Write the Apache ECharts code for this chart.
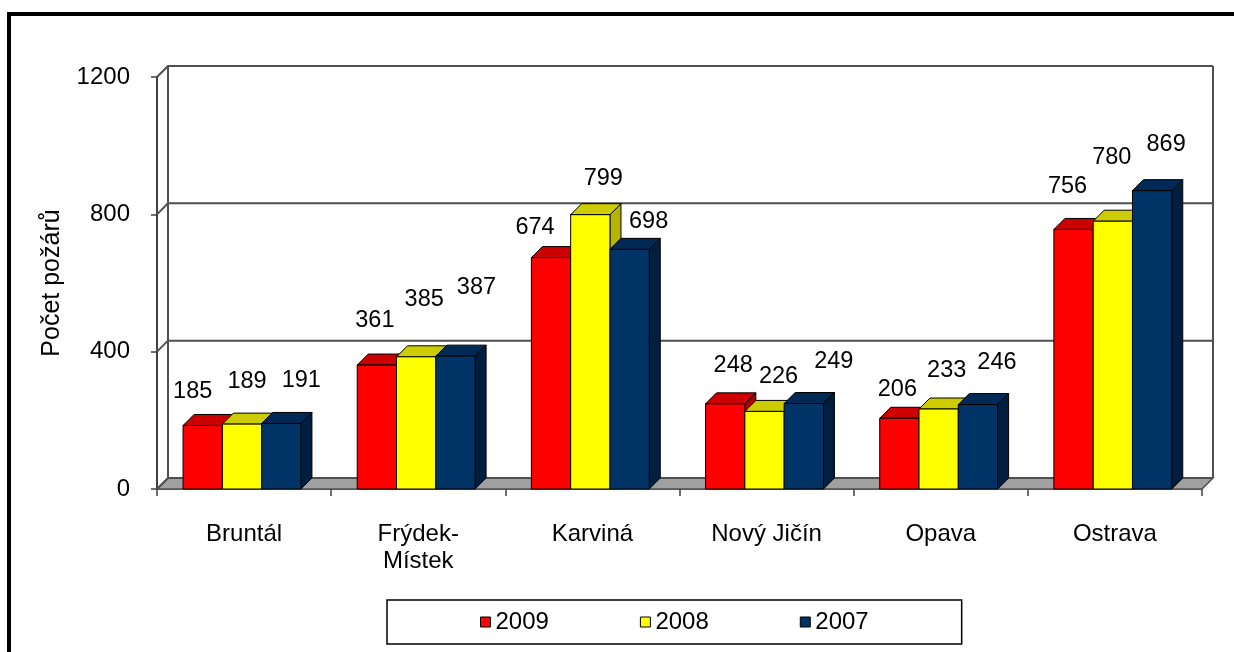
<!DOCTYPE html>
<html><head><meta charset="utf-8">
<script src="https://cdn.jsdelivr.net/npm/echarts@6/dist/echarts.min.js"></script>
<style>html,body{margin:0;padding:0;background:#fff}#c{width:1234px;height:652px}</style>
</head><body><div id="c"></div>
<script>
// ---- data ----
const categories = ['Bruntál', 'Frýdek-\nMístek', 'Karviná', 'Nový Jičín', 'Opava', 'Ostrava'];
const seriesNames = ['2009', '2008', '2007'];
const values2009 = [185, 361, 674, 248, 206, 756];
const values2008 = [189, 385, 799, 226, 233, 780];
const values2007 = [191, 387, 698, 249, 246, 869];
const yTicks = [0, 400, 800, 1200];

// ---- style ----
const seriesValues = [values2009, values2008, values2007];
const frontColors = ['#FF0000', '#FFFF00', '#003366'];
const topColors = ['#CC0000', '#CCCC00', '#002A55'];
const sideColors = ['#A80000', '#B5B500', '#001F3F'];
const DX = 11, DY = 11;
const FONT = '"Liberation Sans", Arial, sans-serif';
const FS = 24;
const LABEL_FS = 23.5;
// label nudges relative to bar front-top centre (Excel 3D label placement)
const labelOffsets = [
  [[-10, -34], [-2, -45], [-16, -30], [8, -38], [-2, -29], [-6, -43]],
  [[5, -43], [8, -57], [13, -36], [14, -35], [8, -38], [-1, -64]],
  [[20, -43], [21, -69], [19, -28], [30, -42], [19, -42], [14, -46]]
];

const chart = echarts.init(document.getElementById('c'), null, {renderer: 'canvas'});

function renderWalls(params, api) {
  const cs = params.coordSys;
  const x0 = cs.x, x1 = cs.x + cs.width;
  const yb = api.coord([0, yTicks[0]])[1];
  const yt = api.coord([0, yTicks[yTicks.length - 1]])[1];
  const ln = {stroke: '#505050', lineWidth: 2, fill: null};
  const children = [];
  children.push({type: 'polygon', shape: {points: [[x0, yb], [x1, yb], [x1 + DX, yb - DY], [x0 + DX, yb - DY]]},
    style: {fill: '#A0A0A0', stroke: '#505050', lineWidth: 1.5}});
  children.push({type: 'polyline', shape: {points: [[x0 + DX, yb - DY], [x0 + DX, yt - DY]]}, style: ln});
  children.push({type: 'polyline', shape: {points: [[x1 + DX, yb - DY], [x1 + DX, yt - DY]]}, style: ln});
  yTicks.forEach(v => {
    const y = api.coord([0, v])[1];
    children.push({type: 'polyline', shape: {points: [[x0, y], [x0 + DX, y - DY], [x1 + DX, y - DY]]}, style: ln});
  });
  return {type: 'group', children};
}

function makeBarRender(si) {
  return function (params, api) {
    const ci = api.value(0), v = api.value(1);
    const base = api.coord([ci, 0]);
    const top = api.coord([ci, v]);
    const band = api.size([1, 0])[0];
    const bw = band * 0.2256;
    const left = base[0] - 1.5 * bw - 0.012 * band + si * bw;
    const right = left + bw;
    const yt = top[1], yb = base[1];
    const edge = {stroke: '#000', lineWidth: 1};
    const off = labelOffsets[si][ci];
    return {type: 'group', children: [
      {type: 'polygon', shape: {points: [[right, yt], [right + DX, yt - DY], [right + DX, yb - DY], [right, yb]]},
        style: Object.assign({fill: sideColors[si]}, edge)},
      {type: 'polygon', shape: {points: [[left, yt], [right, yt], [right + DX, yt - DY], [left + DX, yt - DY]]},
        style: Object.assign({fill: topColors[si]}, edge)},
      {type: 'rect', shape: {x: left, y: yt, width: bw, height: yb - yt},
        style: Object.assign({fill: frontColors[si]}, edge)},
      {type: 'text', z2: 100, style: {text: String(v), x: (left + right) / 2 + off[0], y: yt + off[1],
        align: 'center', verticalAlign: 'middle', fontSize: LABEL_FS, fontFamily: FONT, fill: '#000'}}
    ]};
  };
}

const barSeries = seriesNames.map((name, si) => ({
  type: 'custom',
  name: name,
  coordinateSystem: 'cartesian2d',
  renderItem: makeBarRender(si),
  itemStyle: {color: frontColors[si]},
  encode: {x: 0, y: 1},
  data: seriesValues[si].map((v, i) => [i, v]),
  z: 3
}));

const option = {
  animation: false,
  backgroundColor: '#fff',
  textStyle: {fontFamily: FONT},
  grid: {left: 157, right: 32, top: 77, bottom: 163},
  graphic: [{type: 'rect', shape: {x: 9, y: 14, width: 1600, height: 900},
    style: {fill: null, stroke: '#000', lineWidth: 4}, silent: true}],
  legend: {
    data: seriesNames.map((n, i) => ({name: n, itemStyle: {color: frontColors[i], borderColor: '#000', borderWidth: 1}})),
    left: 387, top: 600, orient: 'horizontal',
    icon: 'rect', itemWidth: 10, itemHeight: 10, itemGap: 91,
    padding: [10, 93, 10, 93], borderColor: '#000', borderWidth: 1.5, backgroundColor: '#fff',
    textStyle: {fontSize: FS, color: '#000', fontFamily: FONT}
  },
  xAxis: {
    type: 'category', data: categories,
    axisLine: {show: true, lineStyle: {color: '#404040', width: 1.5}},
    axisTick: {show: true, length: 7, lineStyle: {color: '#404040', width: 1.5}},
    axisLabel: {color: '#000', fontSize: FS, fontFamily: FONT, margin: 32, lineHeight: 27, interval: 0},
    splitLine: {show: false}
  },
  yAxis: {
    type: 'value', min: yTicks[0], max: yTicks[yTicks.length - 1], interval: yTicks[1] - yTicks[0],
    name: 'Počet požárů', nameLocation: 'middle', nameGap: 92,
    nameTextStyle: {color: '#000', fontSize: 25, fontFamily: FONT},
    axisLine: {show: true, lineStyle: {color: '#404040', width: 2}},
    axisTick: {show: true, inside: false, length: 6, lineStyle: {color: '#404040', width: 1.5}},
    axisLabel: {color: '#000', fontSize: FS, fontFamily: FONT, margin: 27, formatter: v => String(v)},
    splitLine: {show: false}
  },
  series: [{
    type: 'custom', name: 'walls', coordinateSystem: 'cartesian2d',
    renderItem: renderWalls, data: [[0, 0]], encode: {x: 0, y: 1}, silent: true, z: 1
  }].concat(barSeries)
};
chart.setOption(option);
</script></body></html>
